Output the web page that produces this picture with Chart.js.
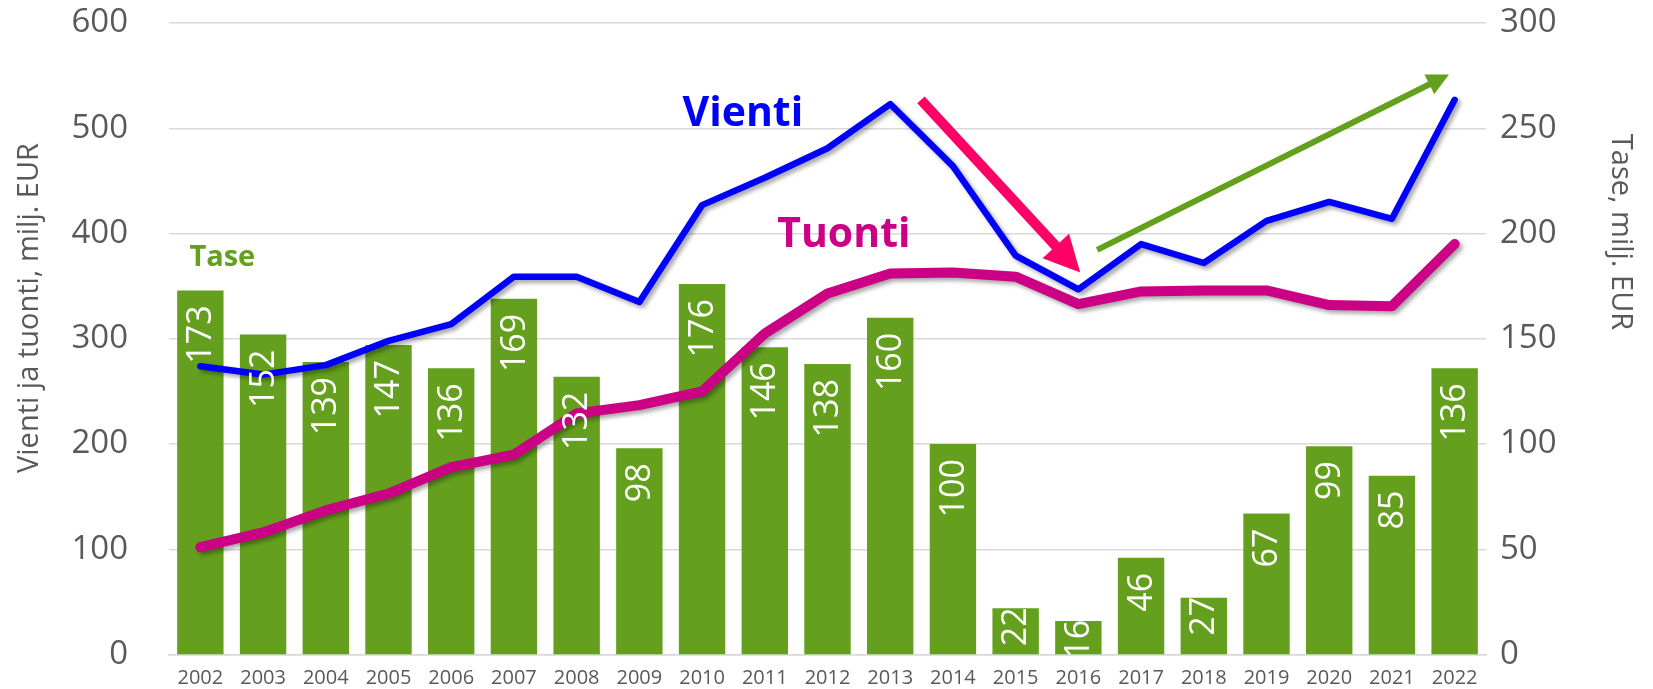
<!DOCTYPE html>
<html><head><meta charset="utf-8">
<script src="https://cdn.jsdelivr.net/npm/chart.js@4.4.1/dist/chart.umd.min.js"></script>
<style>html,body{margin:0;padding:0;background:#fff;}#wrap{width:1653px;height:689px;}</style>
</head><body><div id="wrap"><canvas id="c" width="1653" height="689"></canvas></div>
<script>
const years = ['2002','2003','2004','2005','2006','2007','2008','2009','2010','2011','2012','2013','2014','2015','2016','2017','2018','2019','2020','2021','2022'];
const tase = [173,152,139,147,136,169,132,98,176,146,138,160,100,22,16,46,27,67,99,85,136];
const vienti = [274,266,275,298,314,359,359,335,427,453,481,523,464,379,347,390,372,412,430,414,527];
const tuonti = [102,116,137,153,178,190,229,237,250,305,343,362,363,359,333,345,346,346,332,331,390];
const leftTitle = 'Vienti ja tuonti, milj. EUR';
const rightTitle = 'Tase, milj. EUR';

const GREEN = '#64A01E', BLUE = '#0000FF', MAGENTA = '#CC0084', RED = '#FF0066', GREY = '#595959';
const FONT = "'Open Sans', 'Noto Sans', sans-serif";

function drawArrow(ctx, x1, y1, x2, y2, shaftW, headLen, headW, color) {
  const dx = x2 - x1, dy = y2 - y1, L = Math.hypot(dx, dy);
  const ux = dx / L, uy = dy / L, px = -uy, py = ux;
  const bx = x2 - ux * headLen, by = y2 - uy * headLen;
  ctx.save();
  ctx.strokeStyle = color; ctx.fillStyle = color; ctx.lineWidth = shaftW; ctx.lineCap = 'butt';
  ctx.beginPath(); ctx.moveTo(x1, y1); ctx.lineTo(bx + ux * 2, by + uy * 2); ctx.stroke();
  ctx.beginPath(); ctx.moveTo(x2, y2);
  ctx.lineTo(bx + px * headW / 2, by + py * headW / 2);
  ctx.lineTo(bx - px * headW / 2, by - py * headW / 2);
  ctx.closePath(); ctx.fill();
  ctx.restore();
}

const decor = {
  id: 'decor',
  beforeDatasetDraw(chart, args) {
    if (chart.data.datasets[args.index].type === 'line') {
      const ctx = chart.ctx;
      ctx.save();
      ctx.shadowColor = 'rgba(0,0,0,0.35)';
      ctx.shadowBlur = 4; ctx.shadowOffsetX = 3; ctx.shadowOffsetY = 3;
    }
  },
  afterDatasetDraw(chart, args) {
    if (chart.data.datasets[args.index].type === 'line') chart.ctx.restore();
  },
  afterDatasetsDraw(chart) {
    const ctx = chart.ctx, xs = chart.scales.x, yl = chart.scales.y, area = chart.chartArea;
    const P = (i, v) => [xs.getPixelForValue(i), yl.getPixelForValue(v)];
    const meta = chart.getDatasetMeta(0);
    ctx.save();
    ctx.beginPath(); ctx.rect(area.left, area.top, area.right - area.left, area.bottom - area.top); ctx.clip();
    ctx.font = "34px " + FONT; ctx.fillStyle = '#FFFFFF';
    ctx.textAlign = 'right'; ctx.textBaseline = 'middle';
    meta.data.forEach((bar, i) => {
      const h = bar.base - bar.y;
      const gap = h > 70 ? 15 : -1;
      ctx.save();
      ctx.translate(bar.x + 1, bar.y + gap);
      ctx.rotate(-Math.PI / 2);
      ctx.fillText(String(tase[i]), 0, 0);
      ctx.restore();
    });
    ctx.restore();
    let a = P(11.49, 527), b = P(14.03, 363);
    drawArrow(ctx, a[0], a[1], b[0], b[1], 10, 36, 36, RED);
    a = P(14.30, 384.5); b = P(19.91, 551);
    drawArrow(ctx, a[0], a[1], b[0], b[1], 6, 22, 22, GREEN);
    ctx.save();
    ctx.textAlign = 'center'; ctx.textBaseline = 'middle';
    ctx.font = "bold 41px " + FONT; ctx.fillStyle = BLUE;
    let p = P(8.65, 513); ctx.fillText('Vienti', p[0], p[1]);
    ctx.fillStyle = MAGENTA;
    p = P(10.26, 398); ctx.fillText('Tuonti', p[0], p[1]);
    ctx.font = "bold 29px " + FONT; ctx.fillStyle = GREEN;
    p = P(0.35, 377); ctx.fillText('Tase', p[0], p[1]);
    ctx.restore();
    ctx.save();
    ctx.font = "29px " + FONT; ctx.fillStyle = GREY; ctx.textAlign = 'center'; ctx.textBaseline = 'middle';
    ctx.translate(30, 308); ctx.rotate(-Math.PI / 2); ctx.fillText(leftTitle, 0, 0);
    ctx.restore();
    ctx.save();
    ctx.font = "29px " + FONT; ctx.fillStyle = GREY; ctx.textAlign = 'center'; ctx.textBaseline = 'middle';
    ctx.translate(1620, 232); ctx.rotate(Math.PI / 2); ctx.fillText(rightTitle, 0, 0);
    ctx.restore();
  }
};

new Chart(document.getElementById('c'), {
  data: {
    labels: years,
    datasets: [
      { type: 'bar', label: 'Tase', data: tase, yAxisID: 'y2', backgroundColor: GREEN,
        categoryPercentage: 1, barPercentage: 0.74, order: 3 },
      { type: 'line', label: 'Tuonti', data: tuonti, yAxisID: 'y', borderColor: MAGENTA, borderWidth: 10,
        pointRadius: 0, borderCapStyle: 'round', borderJoinStyle: 'round', tension: 0, order: 2 },
      { type: 'line', label: 'Vienti', data: vienti, yAxisID: 'y', borderColor: BLUE, borderWidth: 6.5,
        pointRadius: 0, borderCapStyle: 'round', borderJoinStyle: 'round', tension: 0, order: 1 }
    ]
  },
  options: {
    responsive: false, devicePixelRatio: 1, animation: false,
    layout: { padding: { top: 23, bottom: 0, left: 0, right: 0 } },
    plugins: { legend: { display: false }, tooltip: { enabled: false } },
    scales: {
      x: {
        offset: true,
        grid: { display: false, drawTicks: false },
        border: { display: true, color: '#D9D9D9', width: 1.5 },
        ticks: { color: GREY, font: { size: 20, family: FONT }, padding: 12, maxRotation: 0, autoSkip: false },
        afterFit(s) { s.height = 34.4; }
      },
      y: {
        position: 'left', min: 0, max: 600,
        ticks: { stepSize: 100, color: GREY, font: { size: 33, family: FONT }, padding: 0 },
        grid: { color: '#D9D9D9', lineWidth: 1.5, drawTicks: true, tickLength: 41, tickColor: 'rgba(0,0,0,0)' },
        border: { display: false },
        afterFit(s) { s.width = 169; }
      },
      y2: {
        position: 'right', min: 0, max: 300,
        ticks: { stepSize: 50, color: GREY, font: { size: 33, family: FONT }, padding: 0 },
        grid: { display: false, drawTicks: true, tickLength: 14, tickColor: 'rgba(0,0,0,0)' },
        border: { display: false },
        afterFit(s) { s.width = 167; }
      }
    }
  },
  plugins: [decor]
});
</script>
</body></html>
